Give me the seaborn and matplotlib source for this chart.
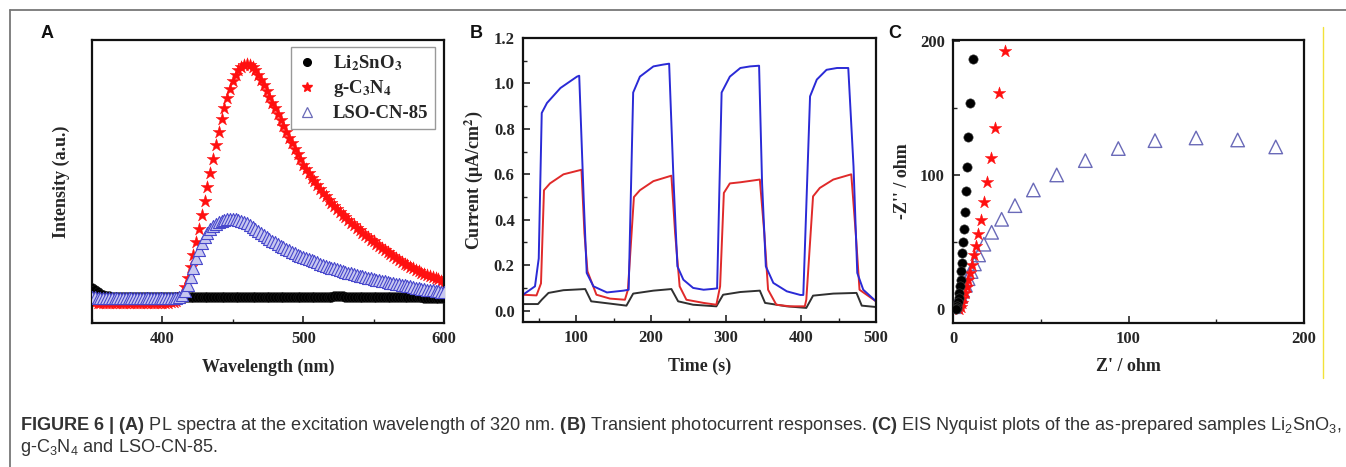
import numpy as np
import matplotlib
matplotlib.use("Agg")
import matplotlib.pyplot as plt
import matplotlib.font_manager as fm
from matplotlib.lines import Line2D
from matplotlib.ticker import MultipleLocator
import seaborn as sns

# ---------------- data ----------------
# Panel A: PL spectra (arbitrary units), wavelength grid in nm
wavelength = np.arange(350, 601, 2)
pl_li2sno3 = [125, 116, 108, 102, 98, 95, 94, 93, 92, 92, 92, 92, 92, 92, 92, 92, 92, 92, 92, 92,
              92, 92, 92, 92, 92, 92, 92, 92, 92, 92, 92, 92, 92, 92, 92, 92, 92, 92, 92, 92,
              92, 92, 92, 92, 92, 92, 92, 92, 92, 92, 92, 92, 92, 92, 92, 92, 92, 92, 92, 92,
              92, 92, 92, 92, 92, 92, 92, 92, 92, 92, 92, 92, 92, 92, 92, 92, 92, 92, 92, 92,
              92, 92, 92, 92, 92, 93, 94, 95, 95, 94, 93, 92, 92, 92, 92, 92, 92, 92, 92, 92,
              92, 92, 92, 92, 92, 92, 92, 92, 92, 92, 92, 92, 91, 91, 91, 91, 91, 91, 90, 90,
              90, 90, 90, 90, 90, 90]
pl_gc3n4 = [73, 73, 72, 72, 72, 72, 72, 72, 72, 72, 72, 72, 72, 72, 72, 72, 72, 72, 72, 72,
            72, 72, 72, 72, 72, 72, 72, 72,
            73, 75, 79, 88, 104, 128, 160, 198, 240, 285, 332, 380, 430, 480, 530, 580, 628, 675,
            720, 760, 796, 828, 856, 878, 895, 906, 913, 916,
            913, 905, 893, 878, 860, 841, 821, 800, 779, 758, 737, 716, 695, 675, 655, 635, 615,
            596, 578, 560, 544, 529, 514, 500, 486, 473, 460, 448, 436, 425, 414, 403, 393, 383,
            373, 363, 354, 345, 336, 327, 319, 311, 303, 295, 288, 280, 272, 264, 257, 250, 243,
            236, 229, 222, 216, 210, 204, 198, 193, 188, 183, 178, 174, 170, 166, 162, 158, 154,
            150, 146]
pl_lso_cn85 = [92, 91, 90, 89, 89, 88, 88, 88, 88, 88, 88, 88, 88, 88, 88, 88, 88, 88, 88, 88,
               88, 88, 88, 88, 88, 88, 88, 88, 88, 88,
               89, 92, 100, 114, 135, 163, 195, 228, 258, 283, 303, 319, 332, 342, 350, 356, 361,
               364, 366, 367, 367, 366, 364, 361, 357, 352, 346, 340, 333, 326, 319, 312, 305, 298,
               291, 285, 279, 273, 267, 262, 257, 252, 247, 242, 238, 234, 230, 226, 222, 218, 214,
               210, 206, 203, 199, 196, 193, 190, 187, 184, 181, 178, 175, 172, 170, 167, 165, 162,
               160, 158, 155, 153, 151, 149, 147, 145, 143, 141, 139, 137, 135, 133, 131, 129, 127,
               125, 123, 121, 119, 118, 116, 115, 113, 112, 110, 109]

# Panel B: transient photocurrent (uA/cm2) vs time (s)
t_lso = [29, 45, 50, 54, 61, 79, 101, 104, 110, 114, 123, 141, 163, 170, 176, 185, 203, 216, 224,
         230, 235, 243, 256, 270, 283, 288, 294, 305, 319, 332, 344, 348, 353, 363, 381, 399, 403,
         412, 421, 434, 448, 463, 470, 475, 483, 500]
i_lso = [0.07, 0.107, 0.23, 0.87, 0.914, 0.98, 1.03, 1.034, 0.49, 0.166, 0.107, 0.08, 0.088, 0.092,
         0.96, 1.03, 1.075, 1.083, 1.087, 0.56, 0.195, 0.136, 0.10, 0.092, 0.096, 0.098, 0.96, 1.03,
         1.068, 1.075, 1.078, 0.56, 0.195, 0.122, 0.085, 0.069, 0.069, 0.943, 1.017, 1.06, 1.068,
         1.068, 0.635, 0.166, 0.092, 0.041]
t_gcn = [29, 47, 53, 57, 65, 83, 107, 111, 115, 127, 145, 165, 169, 177, 185, 203, 227, 232, 238,
         247, 270, 287, 292, 297, 305, 319, 345, 351, 356, 367, 385, 405, 407, 416, 425, 443, 467,
         473, 478, 500]
i_gcn = [0.07, 0.067, 0.12, 0.53, 0.56, 0.60, 0.62, 0.34, 0.173, 0.07, 0.053, 0.048, 0.092, 0.50,
         0.53, 0.57, 0.594, 0.34, 0.107, 0.048, 0.034, 0.026, 0.107, 0.518, 0.56, 0.565, 0.577,
         0.34, 0.092, 0.026, 0.019, 0.019, 0.048, 0.503, 0.54, 0.577, 0.60, 0.34, 0.092, 0.041]
t_lsn = [29, 49, 54, 63, 83, 112, 120, 145, 167, 176, 203, 227, 236, 256, 287, 296, 319, 345, 352,
         381, 407, 416, 443, 474, 481, 500]
i_lsn = [0.029, 0.029, 0.048, 0.078, 0.09, 0.095, 0.041, 0.031, 0.022, 0.075, 0.088, 0.095, 0.041,
         0.026, 0.019, 0.07, 0.082, 0.088, 0.034, 0.019, 0.012, 0.066, 0.075, 0.078, 0.022, 0.016]

# Panel C: EIS Nyquist (ohm)
zre_lsn = [11.2, 9.7, 8.7, 7.8, 7.2, 6.7, 6.2, 5.9, 5.4, 5.1, 4.7, 4.3, 4.0, 3.6, 3.2, 2.8, 2.5, 2.1, 1.6]
zim_lsn = [186.6, 154, 128, 105.7, 88, 72.6, 60, 49.9, 41.7, 34.3, 28, 21.8, 16.9, 12, 8.2, 5, 2.5, 0.8, 0]
zre_gcn = [29.6, 26.4, 24.0, 21.7, 19.6, 17.9, 15.8, 14.4, 13.1, 12.0, 10.8, 9.7, 8.7, 7.8, 6.8, 5.9, 5.1, 4.4, 3.6]
zim_gcn = [192.8, 161, 134.8, 112.9, 94.7, 79.6, 66.6, 55.6, 47, 40, 32.8, 26.6, 21.6, 16.6, 12.1, 7.9, 4.2, 1.7, 0.2]
zre_lso = [183.9, 162.2, 138.5, 115.1, 94.2, 75.4, 59.1, 45.8, 35.3, 27.7, 22.0, 17.6, 14.6, 12.2, 10.3,
           8.6, 7.1, 5.5, 4.4, 3.2, 2.1, 1.4]
zim_lso = [120.9, 126.1, 127.6, 125.6, 119.7, 110.7, 100, 88.8, 77.1, 66.9, 57.2, 48.3, 40.3, 33.6, 27.9,
           22.6, 17.7, 13.4, 9.7, 6.7, 3.7, 1.7]

labels = ["Li$_\\mathbf{2}$SnO$_\\mathbf{3}$", "g-C$_\\mathbf{3}$N$_\\mathbf{4}$", "LSO-CN-85"]

# ---------------- style ----------------
sns.set_style("ticks")
names = {f.name for f in fm.fontManager.ttflist}
cap_font = "Liberation Sans Narrow" if "Liberation Sans Narrow" in names else "Liberation Sans"
plt.rcParams["font.family"] = ["Liberation Serif", "DejaVu Serif"]
plt.rcParams["mathtext.fontset"] = "custom"
plt.rcParams["mathtext.rm"] = cap_font
plt.rcParams["mathtext.bf"] = cap_font + ":bold"
plt.rcParams["mathtext.it"] = cap_font + ":italic"
plt.rcParams["axes.linewidth"] = 1.5
plt.rcParams["xtick.direction"] = "in"
plt.rcParams["ytick.direction"] = "in"

W, H = 1346, 467
fig = plt.figure(figsize=(W / 100, H / 100), dpi=100)
fig.patch.set_facecolor("white")


def ax_at(l, t, r, b):
    return fig.add_axes([l / W, 1 - b / H, (r - l) / W, (b - t) / H])


axA = ax_at(92, 40, 444, 323)
axB = ax_at(523, 38, 876, 322)
axC = ax_at(953, 40, 1304, 323)

RED = "#ff1010"
BLUE = "#4848cc"
TRI = "#6a6ab8"
labfont = dict(family="Liberation Serif", weight="bold", size=13)

# ---- Panel A ----
sns.scatterplot(x=wavelength, y=pl_li2sno3, ax=axA, marker="o", s=50, color="black",
                edgecolor="#222222", linewidth=0.3, zorder=3)
sns.scatterplot(x=wavelength, y=pl_lso_cn85, ax=axA, marker="^", s=75, color=BLUE,
                facecolor="#c8c8f0", edgecolor=BLUE, linewidth=0.8, zorder=4)
sns.scatterplot(x=wavelength, y=pl_gc3n4, ax=axA, marker="*", s=95, color=RED,
                edgecolor=RED, linewidth=0.3, zorder=2)
axA.set_xlim(350, 600)
axA.set_ylim(0, 1000)
axA.set_yticks([])
axA.set_xticks([400, 500, 600])
axA.xaxis.set_minor_locator(MultipleLocator(50))
axA.tick_params(axis="x", which="major", length=5, width=1.2, top=False, pad=6)
axA.tick_params(axis="x", which="minor", length=3, width=1.0, top=False)
axA.set_xlabel("Wavelength (nm)", **labfont, labelpad=8)
axA.set_ylabel("Intensity (a.u.)", **labfont, labelpad=16)
handles = [
    Line2D([], [], ls="", marker="o", ms=5.5, color="black"),
    Line2D([], [], ls="", marker="*", ms=7, color=RED),
    Line2D([], [], ls="", marker="^", ms=6.5, mfc="none", mec=TRI, mew=0.9),
]
leg = axA.legend(handles, labels, loc="upper right", bbox_to_anchor=(0.985, 0.99),
                 prop=dict(family="Liberation Serif", weight="bold", size=13.5),
                 frameon=True, fancybox=False, edgecolor="#999999", framealpha=1,
                 handlelength=1.0, handletextpad=0.9, borderpad=0.35, labelspacing=0.3,
                 borderaxespad=0.2)
leg.get_frame().set_linewidth(1.0)
for t in leg.get_texts():
    t.set_math_fontfamily("stix")

# ---- Panel B ----
sns.lineplot(x=t_lsn, y=i_lsn, ax=axB, color="#303030", lw=1.4, estimator=None)
sns.lineplot(x=t_gcn, y=i_gcn, ax=axB, color="#e02a2a", lw=1.4, estimator=None)
sns.lineplot(x=t_lso, y=i_lso, ax=axB, color="#2a2ad6", lw=1.4, estimator=None)
axB.set_xlim(29, 500)
axB.set_ylim(-0.05, 1.2)
axB.set_xticks([100, 200, 300, 400, 500])
axB.set_yticks([0.0, 0.2, 0.4, 0.6, 0.8, 1.0, 1.2])
axB.set_yticklabels(["0.0", "0.2", "0.4", "0.6", "0.8", "1.0", "1.2"])
axB.xaxis.set_minor_locator(MultipleLocator(50))
axB.yaxis.set_minor_locator(MultipleLocator(0.1))
axB.tick_params(which="major", length=5, width=1.2, top=False, right=False, pad=6)
axB.tick_params(which="minor", length=3, width=1.0, top=False, right=False)
axB.set_xlabel("Time (s)", **labfont, labelpad=8)
ylb = axB.set_ylabel("Current (μA/cm$^{\\mathbf{2}}$)", **labfont, labelpad=6)
ylb.set_math_fontfamily("stix")

# ---- Panel C ----
sns.scatterplot(x=zre_lso, y=zim_lso, ax=axC, marker="^", s=95, color=TRI,
                facecolor="none", edgecolor=TRI, linewidth=1.0, zorder=2)
sns.scatterplot(x=zre_gcn, y=zim_gcn, ax=axC, marker="*", s=90, color=RED,
                edgecolor=RED, linewidth=0.3, zorder=3)
sns.scatterplot(x=zre_lsn, y=zim_lsn, ax=axC, marker="o", s=45, color="black",
                edgecolor="#444444", linewidth=0.4, zorder=4)
axC.set_xlim(0, 200)
axC.set_ylim(-10.5, 200.7)
axC.set_xticks([0, 100, 200])
axC.set_yticks([0, 100, 200])
axC.xaxis.set_minor_locator(MultipleLocator(50))
axC.yaxis.set_minor_locator(MultipleLocator(50))
axC.tick_params(which="major", length=5, width=1.2, top=False, right=False, pad=6)
axC.tick_params(which="minor", length=3, width=1.0, top=False, right=False)
axC.set_xlabel("Z' / ohm", **labfont, labelpad=8)
axC.set_ylabel("-Z'' / ohm", **labfont, labelpad=6)

for ax in (axA, axB, axC):
    for lab in ax.get_xticklabels() + ax.get_yticklabels():
        lab.set_fontfamily("Liberation Serif")
        lab.set_fontweight("bold")
        lab.set_fontsize(12)
    for sp in ax.spines.values():
        sp.set_visible(True)
        sp.set_linewidth(1.6)
        sp.set_color("#111111")
    ax.set_facecolor("white")

# panel letters
for x, lab in ((47, "A"), (476, "B"), (895, "C")):
    fig.text(x / W, 1 - 33 / H, lab, ha="center", va="center", family="Liberation Sans",
             weight="bold", size=13, color="#111111")

# figure frame and yellow rule
fig.add_artist(Line2D([10 / W, 1], [1 - 10 / H, 1 - 10 / H], color="#777777", lw=1.3,
                      transform=fig.transFigure))
fig.add_artist(Line2D([10 / W, 10 / W], [0, 1 - 10 / H], color="#777777", lw=1.3,
                      transform=fig.transFigure))
fig.add_artist(Line2D([1323 / W, 1323 / W], [1 - 27 / H, 1 - 378 / H], color="#f2e23a", lw=1.0,
                      transform=fig.transFigure))

# caption
cap1 = ("$\\mathbf{FIGURE\\ 6\\ |\\ (A)}$ PL spectra at the excitation wavelength of 320 nm. "
        "$\\mathbf{(B)}$ Transient photocurrent responses. $\\mathbf{(C)}$ EIS Nyquist plots of "
        "the as-prepared samples Li$_2$SnO$_3$,")
cap2 = "g-C$_3$N$_4$ and LSO-CN-85."
t1 = fig.text(20 / W, 1 - 425 / H, cap1, ha="left", va="center", family=cap_font, size=11,
              color="#333333", math_fontfamily="custom")
t2 = fig.text(20 / W, 1 - 448 / H, cap2, ha="left", va="center", family=cap_font, size=11,
              color="#333333", math_fontfamily="custom")
r = fig.canvas.get_renderer()
w = t1.get_window_extent(r).width
fs = 11 * 1318 / w
t1.set_fontsize(fs)
t2.set_fontsize(fs)

fig.savefig("out.png", dpi=100, facecolor="white")
